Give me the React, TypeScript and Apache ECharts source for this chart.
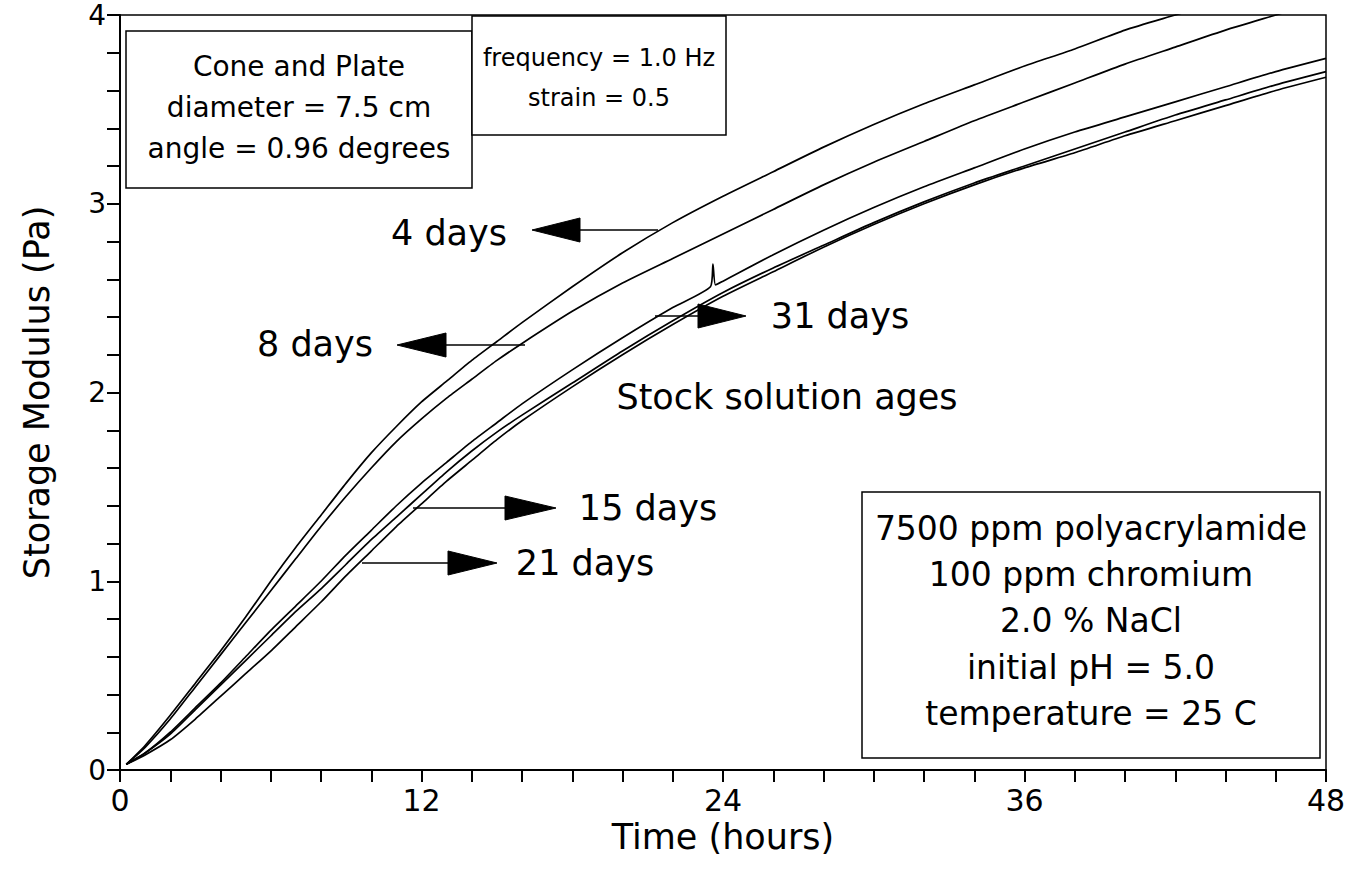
import React, { useEffect, useRef } from "react";
import * as echarts from "echarts";

// Time (hours)
const hours = [0.25, 1, 2, 3, 4, 5, 6, 7, 8, 9, 10, 11, 12, 13, 14, 15, 16, 18, 20, 22, 24, 26, 28, 30, 32, 34, 36, 38, 40, 42, 44, 46, 48];

// Storage modulus (Pa) for each stock solution age
const days4 = [0.03, 0.13, 0.29, 0.46, 0.63, 0.81, 1.0, 1.18, 1.35, 1.52, 1.68, 1.82, 1.95, 2.06, 2.17, 2.27, 2.37, 2.56, 2.74, 2.90, 3.04, 3.17, 3.30, 3.42, 3.53, 3.63, 3.73, 3.82, 3.92, 4.0, 4.08, 4.16, 4.23];
const days8 = [0.03, 0.12, 0.27, 0.44, 0.61, 0.78, 0.95, 1.12, 1.29, 1.45, 1.60, 1.74, 1.86, 1.97, 2.07, 2.17, 2.26, 2.43, 2.58, 2.71, 2.84, 2.97, 3.10, 3.22, 3.33, 3.44, 3.54, 3.64, 3.74, 3.83, 3.92, 4.0, 4.08];
const days15 = [0.03, 0.09, 0.19, 0.32, 0.45, 0.58, 0.71, 0.84, 0.96, 1.09, 1.22, 1.34, 1.46, 1.58, 1.69, 1.79, 1.88, 2.05, 2.22, 2.38, 2.53, 2.66, 2.78, 2.90, 3.01, 3.11, 3.20, 3.29, 3.38, 3.47, 3.55, 3.63, 3.70];
const days21 = [0.03, 0.08, 0.16, 0.27, 0.39, 0.51, 0.63, 0.76, 0.89, 1.03, 1.16, 1.29, 1.41, 1.53, 1.64, 1.75, 1.85, 2.03, 2.20, 2.36, 2.51, 2.64, 2.77, 2.89, 3.0, 3.10, 3.19, 3.27, 3.36, 3.44, 3.52, 3.60, 3.67];
const days31Hours = [0.25, 1, 2, 3, 4, 5, 6, 7, 8, 9, 10, 11, 12, 13, 14, 15, 16, 18, 20, 22, 23.5, 23.6, 23.7, 24, 26, 28, 30, 32, 34, 36, 38, 40, 42, 44, 46, 48];
const days31 = [0.03, 0.09, 0.20, 0.33, 0.46, 0.60, 0.74, 0.87, 1.0, 1.14, 1.27, 1.40, 1.52, 1.63, 1.74, 1.84, 1.94, 2.12, 2.29, 2.45, 2.56, 2.68, 2.57, 2.59, 2.73, 2.86, 2.98, 3.09, 3.19, 3.29, 3.38, 3.46, 3.54, 3.62, 3.70, 3.77];

// Axis tick labels
const xTicks = [0, 12, 24, 36, 48];
const yTicks = [0, 1, 2, 3, 4];

const FONT = "DejaVu Sans";

const zip = (xs: number[], ys: number[]) => xs.map((x, i) => [x, ys[i]]);

const txt = (text: string, x: number, y: number, size: number) => ({
  type: "text",
  x,
  y,
  z: 100,
  style: {
    text,
    x: 0,
    y: 0,
    fontSize: size,
    fontFamily: FONT,
    fill: "#000",
    textAlign: "center",
    textVerticalAlign: "middle",
    align: "center",
    verticalAlign: "middle",
  },
});

const box = (x: number, y: number, w: number, h: number) => ({
  type: "rect",
  z: 99,
  shape: { x, y, width: w, height: h },
  style: { fill: "#fff", stroke: "#000", lineWidth: 1.5 },
});

const hline = (x1: number, x2: number, y: number) => ({
  type: "line",
  z: 100,
  shape: { x1, y1: y, x2, y2: y },
  style: { stroke: "#000", lineWidth: 1.5 },
});

const head = (tip: number, base: number, y: number, half: number) => ({
  type: "polygon",
  z: 100,
  shape: { points: [[tip, y], [base, y - half], [base, y + half]] },
  style: { fill: "#000", stroke: "#000", lineWidth: 1 },
});

export default function App() {
  const ref = useRef<HTMLDivElement>(null);
  useEffect(() => {
    document.body.style.margin = "0";
    const chart = echarts.init(ref.current!, null, { renderer: "svg" });
    const lineStyle = { color: "#000", width: 1.7 };
    const mk = (name: string, data: number[][]) => ({
      name,
      type: "line",
      data,
      showSymbol: false,
      symbol: "none",
      smooth: 0.2,
      clip: true,
      lineStyle,
      itemStyle: { color: "#000" },
    });
    chart.setOption({
      animation: false,
      backgroundColor: "#fff",
      textStyle: { fontFamily: FONT, color: "#000" },
      grid: {
        left: 120,
        right: 36,
        top: 15,
        bottom: 103,
        show: true,
        borderColor: "#000",
        borderWidth: 1.5,
        backgroundColor: "transparent",
      },
      xAxis: {
        type: "value",
        min: 0,
        max: 48,
        interval: 12,
        name: "Time (hours)",
        nameLocation: "middle",
        nameGap: 38,
        nameTextStyle: { fontSize: 35, fontFamily: FONT, color: "#000" },
        axisLine: { show: true, lineStyle: { color: "#000", width: 2 } },
        axisTick: { show: true, inside: false, length: 12, lineStyle: { color: "#000", width: 2 } },
        minorTick: { show: true, splitNumber: 6, length: 12, lineStyle: { color: "#000", width: 2 } },
        splitLine: { show: false },
        axisLabel: {
          fontSize: 30,
          fontFamily: FONT,
          color: "#000",
          margin: 15,
          formatter: (v: number) => (xTicks.includes(v) ? String(v) : ""),
        },
      },
      yAxis: {
        type: "value",
        min: 0,
        max: 4,
        interval: 1,
        name: "Storage Modulus (Pa)",
        nameLocation: "middle",
        nameGap: 66,
        nameRotate: 90,
        nameTextStyle: { fontSize: 35, fontFamily: FONT, color: "#000" },
        axisLine: { show: true, lineStyle: { color: "#000", width: 2 } },
        axisTick: { show: true, inside: false, length: 13, lineStyle: { color: "#000", width: 2 } },
        minorTick: { show: true, splitNumber: 5, length: 13, lineStyle: { color: "#000", width: 2 } },
        splitLine: { show: false },
        axisLabel: {
          fontSize: 28,
          fontFamily: FONT,
          color: "#000",
          margin: 14,
          formatter: (v: number) => (yTicks.includes(v) ? String(v) : ""),
        },
      },
      series: [
        mk("4 days", zip(hours, days4)),
        mk("8 days", zip(hours, days8)),
        mk("15 days", zip(hours, days15)),
        mk("21 days", zip(hours, days21)),
        mk("31 days", zip(days31Hours, days31)),
      ],
      graphic: [
        box(126, 31, 346, 157),
        txt("Cone and Plate", 299, 66, 28),
        txt("diameter = 7.5 cm", 299, 107, 28),
        txt("angle = 0.96 degrees", 299, 148, 28),
        box(472, 16, 254, 119),
        txt("frequency = 1.0 Hz", 599, 58, 24),
        txt("strain = 0.5", 599, 98, 24),
        box(862, 492, 458, 266),
        txt("7500 ppm polyacrylamide", 1091, 528, 33),
        txt("100 ppm chromium", 1091, 574, 33),
        txt("2.0 % NaCl", 1091, 620, 33),
        txt("initial pH = 5.0", 1091, 667, 33),
        txt("temperature = 25 C", 1091, 713, 33),
        txt("4 days", 449, 233, 35),
        hline(578, 658, 230),
        head(532, 580, 230, 12),
        txt("8 days", 315, 344, 35),
        hline(444, 525, 345),
        head(397, 446, 345, 12),
        txt("31 days", 840, 316, 35),
        hline(655, 700, 316),
        head(746, 698, 316, 12),
        txt("15 days", 648, 508, 35),
        hline(413, 507, 508),
        head(556, 505, 508, 12),
        txt("21 days", 585, 563, 35),
        hline(362, 450, 563),
        head(497, 448, 563, 12),
        txt("Stock solution ages", 787, 397, 35),
      ],
    });
    return () => chart.dispose();
  }, []);
  return <div ref={ref} style={{ width: 1362, height: 873 }} />;
}
